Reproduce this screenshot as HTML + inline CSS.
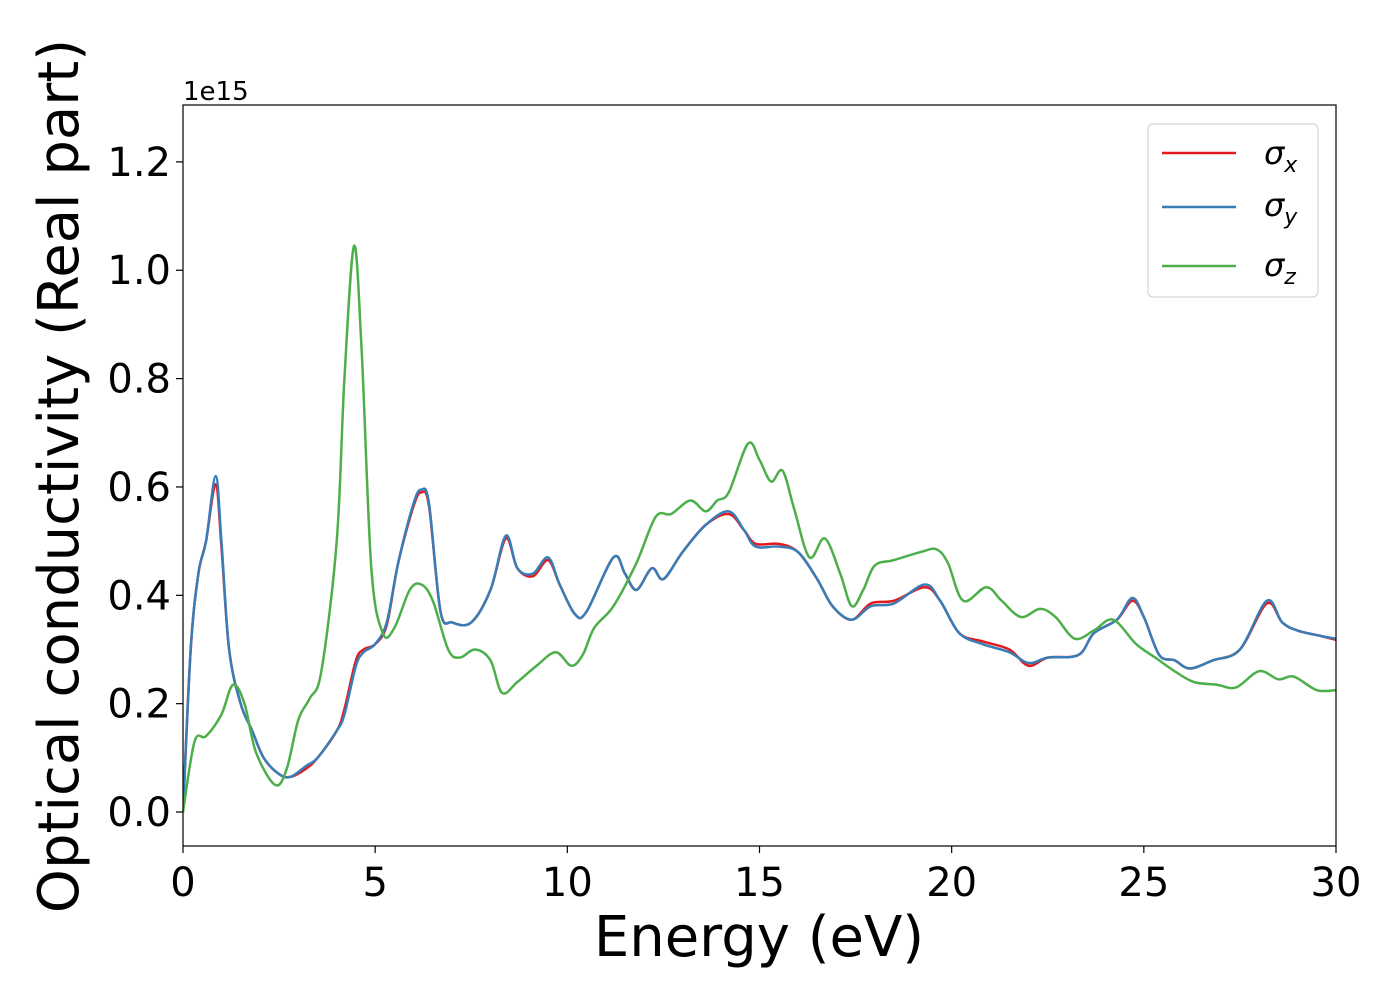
<!DOCTYPE html>
<html><head><meta charset="utf-8">
<style>
body{margin:0;background:#fff;}
svg{display:block;font-family:"DejaVu Sans","Liberation Sans",sans-serif;}
</style></head>
<body>
<svg id="chart" width="1400" height="1000" viewBox="0 0 1400 1000" xmlns="http://www.w3.org/2000/svg">
<rect width="1400" height="1000" fill="#fff"/>
<g id="axes"></g>
<g id="series"></g>
<rect x="183" y="105" width="1153" height="741" fill="none" stroke="#000" stroke-width="1.2"/>
<text x="183" y="100" font-size="26">1e15</text>
<text x="759" y="956" font-size="56" text-anchor="middle">Energy (eV)</text>
<text transform="translate(78,476) rotate(-90)" font-size="56" text-anchor="middle">Optical conductivity (Real part)</text>
<g>
<rect x="1148" y="124" width="170" height="173" rx="5" fill="#fff" fill-opacity="0.8" stroke="#ccc"/>
<line x1="1162" y1="153" x2="1236" y2="153" stroke="#e41a1c" stroke-width="2.5"/>
<text x="1264" y="164" font-size="32" font-style="italic">σ<tspan font-size="22" dy="8">x</tspan></text>
<line x1="1162" y1="207" x2="1236" y2="207" stroke="#377eb8" stroke-width="2.5"/>
<text x="1264" y="216" font-size="32" font-style="italic">σ<tspan font-size="22" dy="8">y</tspan></text>
<line x1="1162" y1="266" x2="1236" y2="266" stroke="#4daf4a" stroke-width="2.5"/>
<text x="1264" y="276" font-size="32" font-style="italic">σ<tspan font-size="22" dy="8">z</tspan></text>
</g>
</svg>
<script>
const xTicks=[0,5,10,15,20,25,30];
const yTicks=[0.0,0.2,0.4,0.6,0.8,1.0,1.2];
const yTickLabels=["0.0","0.2","0.4","0.6","0.8","1.0","1.2"];
const energyY=[0,0.2,0.4,0.6,0.85,1.0,1.2,1.5,1.8,2.1,2.5,2.8,3.2,3.5,4.0,4.2,4.5,4.7,5.0,5.3,5.6,6.0,6.2,6.4,6.7,7.0,7.5,8.0,8.4,8.7,9.1,9.5,9.8,10.2,10.5,11.2,11.5,11.8,12.2,12.5,13.0,13.6,14.2,14.6,14.9,15.5,16.0,16.5,16.9,17.4,17.9,18.5,19.3,19.7,20.2,20.8,21.5,22.0,22.5,23.3,23.7,24.3,24.7,25.0,25.4,25.8,26.2,26.8,27.5,28.2,28.6,29.0,29.6,30];
const sigmaY=[0,0.3,0.44,0.5,0.62,0.5,0.3,0.2,0.15,0.1,0.07,0.065,0.085,0.1,0.15,0.18,0.27,0.295,0.31,0.35,0.46,0.57,0.595,0.57,0.37,0.35,0.35,0.41,0.51,0.45,0.44,0.47,0.42,0.365,0.37,0.47,0.44,0.41,0.45,0.43,0.48,0.53,0.555,0.52,0.49,0.49,0.48,0.43,0.38,0.355,0.38,0.385,0.42,0.39,0.33,0.31,0.295,0.275,0.285,0.29,0.33,0.355,0.395,0.36,0.29,0.28,0.265,0.28,0.30,0.39,0.35,0.335,0.325,0.32];
const sigmaX=[0,0.3,0.44,0.5,0.605,0.49,0.3,0.2,0.15,0.1,0.07,0.065,0.08,0.1,0.15,0.19,0.28,0.3,0.31,0.345,0.46,0.565,0.59,0.565,0.37,0.35,0.35,0.41,0.505,0.45,0.435,0.465,0.42,0.365,0.37,0.47,0.44,0.41,0.45,0.43,0.48,0.53,0.55,0.52,0.495,0.495,0.48,0.43,0.38,0.355,0.385,0.39,0.415,0.39,0.33,0.315,0.3,0.27,0.285,0.29,0.33,0.355,0.39,0.36,0.29,0.28,0.265,0.28,0.30,0.385,0.35,0.335,0.325,0.318];
const energyZ=[0,0.3,0.6,1.0,1.3,1.6,1.9,2.4,2.7,3.0,3.3,3.6,4.0,4.2,4.45,4.65,4.9,5.2,5.5,5.9,6.2,6.5,6.9,7.2,7.6,8.0,8.3,8.7,9.2,9.7,10.1,10.4,10.7,11.2,11.8,12.3,12.7,13.2,13.6,13.9,14.2,14.7,15.0,15.3,15.6,15.9,16.3,16.7,17.1,17.4,17.7,18.0,18.5,19.2,19.6,19.9,20.3,20.9,21.3,21.8,22.3,22.7,23.2,23.7,24.2,24.8,25.3,25.8,26.3,26.9,27.4,28.0,28.5,28.9,29.5,30];
const sigmaZ=[0,0.13,0.14,0.18,0.235,0.2,0.11,0.05,0.08,0.17,0.21,0.26,0.5,0.8,1.045,0.85,0.45,0.33,0.34,0.41,0.42,0.39,0.3,0.285,0.3,0.28,0.22,0.24,0.27,0.295,0.27,0.29,0.34,0.38,0.46,0.545,0.55,0.575,0.555,0.575,0.59,0.68,0.65,0.61,0.63,0.56,0.47,0.505,0.44,0.38,0.41,0.455,0.465,0.48,0.485,0.46,0.39,0.415,0.39,0.36,0.375,0.36,0.32,0.335,0.355,0.31,0.285,0.26,0.24,0.235,0.23,0.26,0.245,0.25,0.225,0.225];

const X0=183,X1=1336,Y0=846,Y1=105,xmin=0,xmax=30,ymin=-0.0627,ymax=1.305;
const sx=v=>X0+(v-xmin)/(xmax-xmin)*(X1-X0);
const sy=v=>Y0-(v-ymin)/(ymax-ymin)*(Y0-Y1);
const NS="http://www.w3.org/2000/svg";
const axes=document.getElementById('axes'),series=document.getElementById('series');
function mk(tag,attrs,parent){const e=document.createElementNS(NS,tag);for(const k in attrs)e.setAttribute(k,attrs[k]);parent.appendChild(e);return e;}
xTicks.forEach(t=>{
  const l=mk('line',{x1:sx(t),x2:sx(t),y1:Y0,y2:Y0+7,stroke:'#000','stroke-width':1.2},axes);
  
  
  const tx=mk('text',{x:sx(t),y:Y0+50,'font-size':40,'text-anchor':'middle'},axes);
  tx.textContent=t;
  
  
});
yTicks.forEach((t,i)=>{
  const l=mk('line',{x1:X0-7,x2:X0,y1:sy(t),y2:sy(t),stroke:'#000','stroke-width':1.2},axes);
  
  
  const tx=mk('text',{x:X0-12,y:sy(t)+14,'font-size':40,'text-anchor':'end'},axes);
  tx.textContent=yTickLabels[i];
  
  
});
function smooth(xs,ys){
  const p=xs.map((x,i)=>[sx(x),sy(ys[i])]);
  let d='M'+p[0][0]+','+p[0][1];
  for(let i=0;i<p.length-1;i++){
    const a=p[Math.max(0,i-1)],b=p[i],c=p[i+1],e=p[Math.min(p.length-1,i+2)];
    const c1=[b[0]+(c[0]-a[0])/6,b[1]+(c[1]-a[1])/6],c2=[c[0]-(e[0]-b[0])/6,c[1]-(e[1]-b[1])/6];
    d+=' C'+c1+' '+c2+' '+c;
  }
  return d;
}
const defs=mk('clipPath',{id:'clip'},document.getElementById('chart'));
mk('rect',{x:X0,y:Y1,width:X1-X0,height:Y0-Y1},defs);
const px=mk('path',{d:smooth(energyY,sigmaX),fill:'none',stroke:'#e41a1c','stroke-width':2.5,'clip-path':'url(#clip)'},series);


const py=mk('path',{d:smooth(energyY,sigmaY),fill:'none',stroke:'#377eb8','stroke-width':2.5,'clip-path':'url(#clip)'},series);


const pz=mk('path',{d:smooth(energyZ,sigmaZ),fill:'none',stroke:'#4daf4a','stroke-width':2.5,'clip-path':'url(#clip)'},series);


</script>
</body></html>
